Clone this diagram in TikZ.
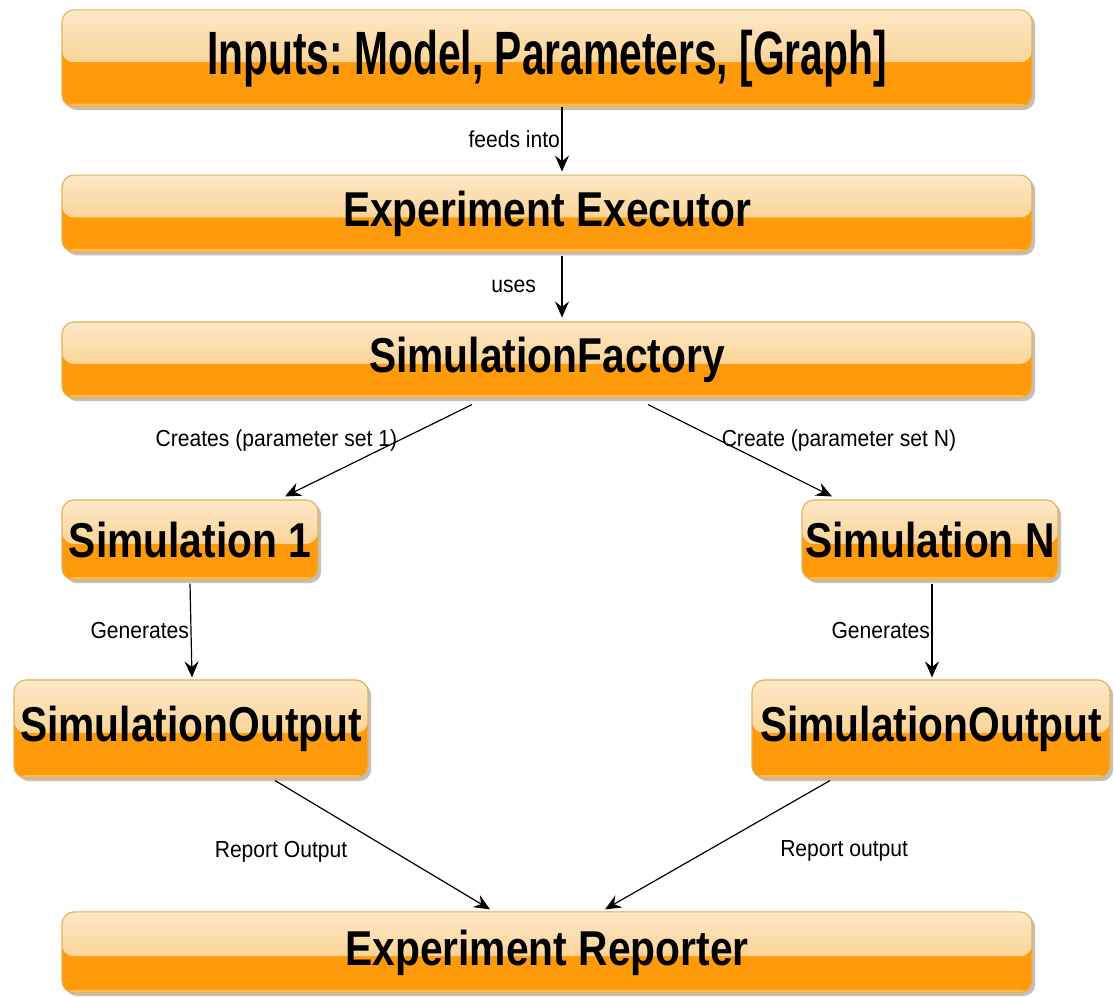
\documentclass[tikz,border=0pt]{standalone}
\usepackage{fontspec}
\setsansfont{Liberation Sans}
\usepackage{graphicx}
\usepackage{tikz}
\usetikzlibrary{calc,positioning,arrows.meta,shadows}
\definecolor{boxtop}{RGB}{252,232,200}
\definecolor{boxmid}{RGB}{251,196,112}
\definecolor{boxlow}{RGB}{255,154,10}
\definecolor{boxrim}{RGB}{229,178,90}
\definecolor{boxedge}{RGB}{253,186,80}
\newcommand{\tallbox}[2]{\scalebox{1}[#1]{#2}}
\frenchspacing

\begin{document}
\begin{tikzpicture}[
	sbox/.style={draw=boxrim, line width=0.8pt, rounded corners=3mm, inner sep=0pt, fill=boxlow,
		drop shadow={shadow xshift=0.8mm, shadow yshift=-0.8mm, fill=black!55, opacity=0.45},
		path picture={
			\shade[top color=boxtop, bottom color=boxmid] (path picture bounding box.north west) rectangle ([yshift=-1mm]path picture bounding box.east);
			\fill[boxlow] ([yshift=-1mm]path picture bounding box.west) rectangle (path picture bounding box.south east);
			\fill[boxedge] ([yshift=0.8mm]path picture bounding box.south west) rectangle (path picture bounding box.south east);
		},
		font=\sffamily\bfseries\fontsize{29}{30}\selectfont, text=black},
	lbl/.style={font=\sffamily\fontsize{15}{16}\selectfont, text=black, inner sep=1pt},
	arr/.style={-{Stealth[length=4mm,width=3.5mm,inset=1.4mm]}, line width=0.85pt}]
				 %\draw[color=gray,step=5mm, help lines,opacity=0.3] (0,0) grid (278.75mm,249mm); %help grid
				\useasboundingbox (0,0) rectangle (278.75mm,249mm);
				\node[sbox, minimum width=242.5mm, minimum height=24.25mm] (inputs) at (136.75mm,234.4mm) {\tallbox{1.5}{Inputs: Model, Parameters, [Graph]}};
				\node[sbox, minimum width=242.5mm, minimum height=19.25mm] (executor) at (136.75mm,195.6mm) {\tallbox{1.2}{Experiment Executor}};
				\node[sbox, minimum width=242.5mm, minimum height=19mm] (factory) at (136.75mm,159mm) {\tallbox{1.2}{SimulationFactory}};
				\node[sbox, minimum width=64mm, minimum height=20mm] (sim1) at (47.5mm,114mm) {\tallbox{1.2}{Simulation 1}};
				\node[sbox, minimum width=64mm, minimum height=20mm] (simN) at (232.5mm,114mm) {\tallbox{1.2}{Simulation N}};
				\node[sbox, minimum width=88.5mm, minimum height=24.5mm] (out1) at (47.75mm,66.75mm) {\tallbox{1.2}{SimulationOutput}};
				\node[sbox, minimum width=89.5mm, minimum height=24.5mm] (outN) at (232.75mm,66.75mm) {\tallbox{1.2}{SimulationOutput}};
				\node[sbox, minimum width=242.5mm, minimum height=20.25mm] (reporter) at (136.75mm,10.9mm) {\tallbox{1.2}{Experiment Reporter}};
				% connectors
				\draw[arr] ([xshift=3.75mm]inputs.south) -- ([xshift=3.75mm,yshift=0.75mm]executor.north) node[lbl,midway,left] {\tallbox{1.1}{feeds into}};
				\draw[arr] ([xshift=3.75mm,yshift=-0.75mm]executor.south) -- ([xshift=3.75mm,yshift=1mm]factory.north) node[lbl,midway,left=6mm] {\tallbox{1.1}{uses}};
				\draw[arr] ([xshift=-18.75mm,yshift=-1.5mm]factory.south) -- ([xshift=23.75mm,yshift=0.75mm]sim1.north) node[lbl,pos=0.39,left] {\tallbox{1.1}{Creates (parameter set 1)}};
				\draw[arr] ([xshift=25.25mm,yshift=-1.5mm]factory.south) -- ([xshift=-24.5mm,yshift=0.75mm]simN.north) node[lbl,pos=0.39,right] {\tallbox{1.1}{Create (parameter set N)}};
				\draw[arr] ([yshift=-0.75mm]sim1.south) -- ([xshift=0.25mm,yshift=0.5mm]out1.north) node[lbl,midway,left] {\tallbox{1.1}{Generates}};
				\draw[arr] ([xshift=0.5mm,yshift=-0.75mm]simN.south) -- ([xshift=0.25mm,yshift=0.5mm]outN.north) node[lbl,midway,left] {\tallbox{1.1}{Generates}};
				\draw[arr] ([xshift=21mm,yshift=-0.5mm]out1.south) -- ([xshift=-14.25mm,yshift=0.5mm]reporter.north) node[lbl,pos=0.55,left=11mm] {\tallbox{1.1}{Report Output}};
				\draw[arr] ([xshift=-25.25mm,yshift=-0.5mm]outN.south) -- ([xshift=14.5mm,yshift=0.5mm]reporter.north) node[lbl,pos=0.55,right=18mm] {\tallbox{1.1}{Report output}};
\end{tikzpicture}
\end{document}
